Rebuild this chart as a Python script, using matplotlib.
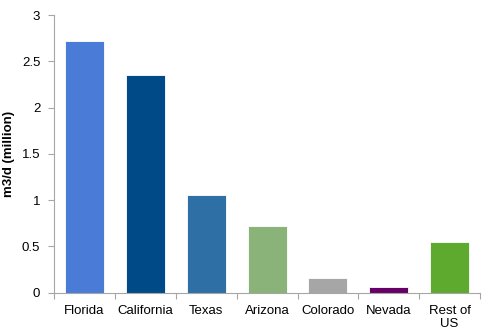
import numpy as np
import matplotlib.pyplot as plt

regions = ['Florida', 'California', 'Texas', 'Arizona', 'Colorado', 'Nevada', 'Rest of\nUS']
capacity = [2.72, 2.35, 1.05, 0.72, 0.155, 0.06, 0.55]
colors = ['#4A7BD6', '#004A87', '#2E6FA6', '#8AB37A', '#A6A6A6', '#660066', '#5DAA2E']
yticks = [0, 0.5, 1, 1.5, 2, 2.5, 3]
ytick_labels = ['0', '0.5', '1', '1.5', '2', '2.5', '3']

plt.rcParams['font.family'] = ['Liberation Sans', 'DejaVu Sans']

fig = plt.figure(figsize=(4.83, 3.34), dpi=100)
ax = fig.add_axes([0.112, 0.124, 0.882, 0.831])

x = np.arange(len(regions))
ax.bar(x, capacity, width=0.64, color=colors, edgecolor='white', linewidth=0.6)

ax.set_xlim(-0.5, len(regions) - 0.5)
ax.set_ylim(0, 3)
ax.set_yticks(yticks)
ax.set_yticklabels(ytick_labels)

# category labels at centers, tick marks at the boundaries
ax.set_xticks(x)
ax.set_xticklabels(regions, linespacing=1.1)
ax.set_xticks(np.arange(-0.5, len(regions)), minor=True)
ax.tick_params(axis='x', which='major', length=0, pad=9, labelsize=9.5)
ax.tick_params(axis='x', which='minor', length=4, color='#A6A6A6', width=0.8)
ax.tick_params(axis='y', length=4, color='#A6A6A6', width=0.8, labelsize=9.5, pad=6)

for side in ['top', 'right']:
    ax.spines[side].set_visible(False)
for side in ['left', 'bottom']:
    ax.spines[side].set_color('#A6A6A6')
    ax.spines[side].set_linewidth(0.8)

ax.set_ylabel('m3/d (million)', fontsize=9.5, fontweight='bold')
ax.yaxis.set_label_coords(-0.092, 0.5)

fig.savefig('out.png', dpi=100)
